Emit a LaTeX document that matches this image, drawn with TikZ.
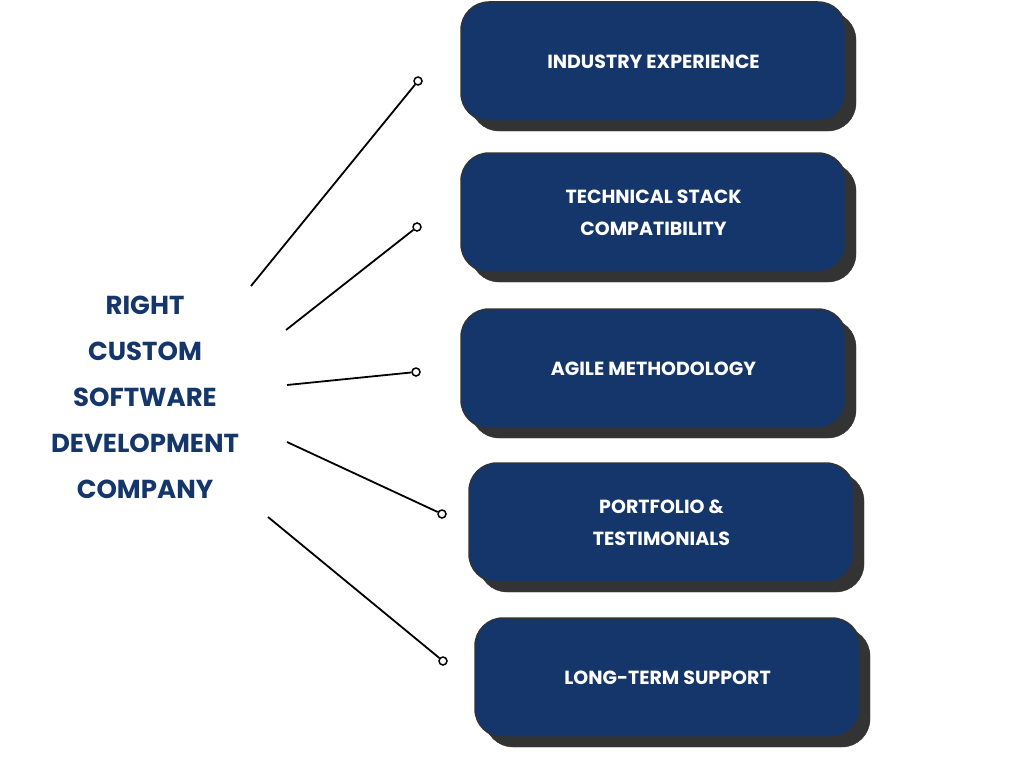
\documentclass[tikz,border=0pt]{standalone}
\usepackage{fontspec}
\setmainfont{Poppins}
\definecolor{navy}{HTML}{14366A}
\definecolor{shad}{HTML}{333333}
\begin{document}
\begin{tikzpicture}[x=1pt,y=-1pt,
  card/.style={fill=navy,draw=shad,line width=1.5pt,rounded corners=28pt,minimum width=385pt,minimum height=119pt,text=white,font=\bfseries\fontsize{19}{32}\selectfont,align=center},
  shadowbox/.style={fill=shad,draw=shad,rounded corners=28pt,minimum width=385pt,minimum height=119pt},
  link/.style={line width=1.8pt},
  dot/.style={circle,draw,line width=1.5pt,fill=white,inner sep=0pt,minimum size=8pt}]
\useasboundingbox (0,0) rectangle (1024,768);
\node[font=\bfseries\fontsize{26}{46}\selectfont,text=navy,align=center] (c) at (145,397) {RIGHT\\CUSTOM\\SOFTWARE\\DEVELOPMENT\\COMPANY};
\foreach \n/\x/\y/\t in {a/653.5/61.5/INDUSTRY EXPERIENCE,b/653.5/212.5/{TECHNICAL STACK\\COMPATIBILITY},d/653.5/368.5/AGILE METHODOLOGY,e/661.5/522.5/{PORTFOLIO \&\\TESTIMONIALS},f/667.5/677.5/LONG-TERM SUPPORT}{
  \node[shadowbox] at (\x+10,\y+10) {};
  \node[card] (\n) at (\x,\y) {\t};
}
\coordinate (s1) at (251,286); \node[dot] (p1) at (418,81) {};
\coordinate (s2) at (286,330); \node[dot] (p2) at (417,227) {};
\coordinate (s3) at (287,385); \node[dot] (p3) at (416,372) {};
\coordinate (s4) at (287,442); \node[dot] (p4) at (442,514) {};
\coordinate (s5) at (268,517); \node[dot] (p5) at (443,661) {};
\foreach \i in {1,...,5}{\draw[link] (s\i) -- (p\i);}
\end{tikzpicture}
\end{document}
